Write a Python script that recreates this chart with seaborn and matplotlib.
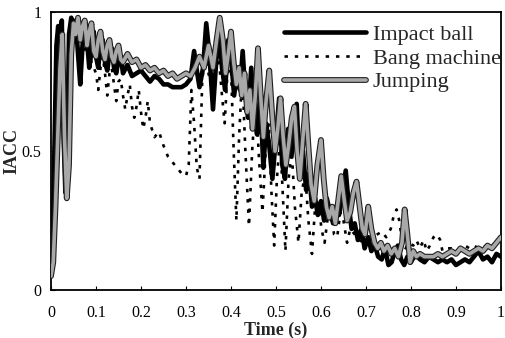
import numpy as np
import pandas as pd
import seaborn as sns
import matplotlib
matplotlib.use("Agg")
import matplotlib.pyplot as plt
import matplotlib.patheffects as pe

# ---------------- data ----------------
t_impact = [0.000, 0.004, 0.008, 0.012, 0.016, 0.020, 0.024, 0.028, 0.032, 0.036,
            0.040, 0.045, 0.050, 0.055, 0.060, 0.065, 0.070, 0.075, 0.080, 0.085,
            0.090, 0.095, 0.100, 0.105, 0.110, 0.115, 0.120, 0.125, 0.130, 0.135,
            0.140, 0.145, 0.150, 0.155, 0.160, 0.170, 0.180, 0.190, 0.200, 0.210,
            0.220, 0.230, 0.240, 0.250, 0.260, 0.270, 0.280, 0.290, 0.300, 0.310,
            0.318, 0.325, 0.330, 0.338, 0.345, 0.352, 0.360, 0.367, 0.374, 0.380,
            0.387, 0.394, 0.400, 0.407, 0.414, 0.420, 0.426, 0.432, 0.438, 0.445,
            0.452, 0.458, 0.465, 0.472, 0.478, 0.485, 0.492, 0.500, 0.507, 0.514,
            0.520, 0.527, 0.534, 0.540, 0.546, 0.553, 0.560, 0.567, 0.574, 0.580,
            0.587, 0.593, 0.600, 0.607, 0.613, 0.620, 0.627, 0.633, 0.640, 0.647,
            0.655, 0.662, 0.668, 0.675, 0.682, 0.690, 0.697, 0.705, 0.712, 0.720,
            0.727, 0.735, 0.742, 0.750, 0.757, 0.764, 0.771, 0.778, 0.785, 0.792,
            0.800, 0.810, 0.820, 0.830, 0.840, 0.850, 0.860, 0.870, 0.880, 0.890,
            0.900, 0.910, 0.920, 0.930, 0.940, 0.950, 0.960, 0.970, 0.980, 0.990,
            1.000]
iacc_impact = [0.10, 0.20, 0.55, 0.88, 0.95, 0.60, 0.97, 0.55, 0.35, 0.50,
               0.92, 0.98, 0.96, 0.97, 0.85, 0.74, 0.88, 0.97, 0.90, 0.80,
               0.86, 0.93, 0.84, 0.80, 0.88, 0.90, 0.82, 0.79, 0.85, 0.87,
               0.80, 0.78, 0.83, 0.84, 0.78, 0.81, 0.77, 0.78, 0.79, 0.77,
               0.75, 0.77, 0.76, 0.74, 0.74, 0.73, 0.73, 0.73, 0.74, 0.76,
               0.86, 0.78, 0.73, 0.80, 0.96, 0.85, 0.65, 0.82, 0.93, 0.80,
               0.72, 0.90, 0.84, 0.70, 0.80, 0.72, 0.86, 0.70, 0.62, 0.80,
               0.62, 0.56, 0.70, 0.44, 0.60, 0.52, 0.40, 0.55, 0.69, 0.45,
               0.40, 0.58, 0.48, 0.55, 0.67, 0.42, 0.50, 0.36, 0.42, 0.30,
               0.33, 0.27, 0.32, 0.25, 0.33, 0.28, 0.24, 0.30, 0.27, 0.34,
               0.43, 0.30, 0.22, 0.24, 0.18, 0.22, 0.15, 0.19, 0.14, 0.16,
               0.12, 0.11, 0.15, 0.09, 0.10, 0.14, 0.16, 0.11, 0.09, 0.12,
               0.10, 0.13, 0.11, 0.10, 0.12, 0.11, 0.10, 0.11, 0.10, 0.11,
               0.09, 0.10, 0.11, 0.10, 0.12, 0.14, 0.11, 0.12, 0.10, 0.13,
               0.12]

t_bang = [0.000, 0.004, 0.008, 0.012, 0.016, 0.020, 0.025, 0.030, 0.035, 0.040,
          0.045, 0.050, 0.060, 0.070, 0.080, 0.090, 0.100, 0.105, 0.110, 0.115,
          0.120, 0.125, 0.130, 0.135, 0.140, 0.145, 0.150, 0.155, 0.160, 0.165,
          0.170, 0.175, 0.180, 0.185, 0.190, 0.195, 0.200, 0.205, 0.210, 0.215,
          0.220, 0.230, 0.240, 0.250, 0.260, 0.270, 0.280, 0.290, 0.300, 0.306,
          0.312, 0.318, 0.324, 0.330, 0.336, 0.342, 0.350, 0.358, 0.365, 0.372,
          0.380, 0.386, 0.392, 0.400, 0.406, 0.412, 0.418, 0.425, 0.432, 0.440,
          0.447, 0.455, 0.462, 0.470, 0.477, 0.484, 0.490, 0.496, 0.502, 0.509,
          0.515, 0.521, 0.528, 0.535, 0.542, 0.550, 0.557, 0.565, 0.572, 0.580,
          0.587, 0.594, 0.601, 0.608, 0.615, 0.622, 0.629, 0.636, 0.643, 0.650,
          0.658, 0.665, 0.675, 0.685, 0.695, 0.705, 0.715, 0.725, 0.735, 0.745,
          0.755, 0.762, 0.768, 0.774, 0.780, 0.788, 0.795, 0.805, 0.812, 0.820,
          0.828, 0.835, 0.842, 0.850, 0.858, 0.865, 0.870, 0.880, 0.890, 0.900,
          0.910, 0.920, 0.930, 0.940, 0.950, 0.960, 0.970, 0.980, 0.990, 1.000]
iacc_bang = [0.10, 0.30, 0.60, 0.85, 0.92, 0.88, 0.90, 0.70, 0.50, 0.75,
             0.92, 0.95, 0.90, 0.85, 0.88, 0.82, 0.78, 0.72, 0.80, 0.84,
             0.78, 0.70, 0.78, 0.80, 0.74, 0.68, 0.75, 0.76, 0.70, 0.65,
             0.70, 0.74, 0.66, 0.62, 0.66, 0.72, 0.64, 0.58, 0.62, 0.68,
             0.60, 0.55, 0.57, 0.52, 0.48, 0.46, 0.44, 0.42, 0.41, 0.45,
             0.72, 0.60, 0.44, 0.40, 0.75, 0.85, 0.78, 0.72, 0.80, 0.85,
             0.70, 0.60, 0.78, 0.80, 0.50, 0.25, 0.55, 0.78, 0.50, 0.23,
             0.50, 0.70, 0.48, 0.28, 0.50, 0.60, 0.35, 0.16, 0.40, 0.55,
             0.35, 0.14, 0.40, 0.50, 0.30, 0.17, 0.35, 0.42, 0.25, 0.13,
             0.30, 0.33, 0.22, 0.17, 0.26, 0.30, 0.20, 0.19, 0.28, 0.25,
             0.17, 0.22, 0.20, 0.18, 0.17, 0.18, 0.19, 0.20, 0.21, 0.19,
             0.22, 0.27, 0.29, 0.25, 0.18, 0.15, 0.17, 0.16, 0.18, 0.15,
             0.18, 0.14, 0.16, 0.19, 0.20, 0.18, 0.14, 0.15, 0.15, 0.14,
             0.15, 0.16, 0.15, 0.16, 0.15, 0.16, 0.15, 0.16, 0.17, 0.18]

t_jump = [0.000, 0.005, 0.010, 0.015, 0.020, 0.025, 0.030, 0.035, 0.040, 0.045,
          0.050, 0.055, 0.060, 0.065, 0.070, 0.075, 0.080, 0.085, 0.090, 0.095,
          0.100, 0.105, 0.110, 0.115, 0.120, 0.125, 0.130, 0.135, 0.140, 0.145,
          0.150, 0.155, 0.160, 0.170, 0.180, 0.190, 0.200, 0.210, 0.220, 0.230,
          0.240, 0.250, 0.260, 0.270, 0.280, 0.290, 0.300, 0.310, 0.320, 0.330,
          0.340, 0.350, 0.360, 0.368, 0.375, 0.382, 0.388, 0.394, 0.400, 0.406,
          0.412, 0.418, 0.424, 0.430, 0.436, 0.442, 0.448, 0.454, 0.460, 0.466,
          0.472, 0.478, 0.485, 0.492, 0.498, 0.504, 0.510, 0.516, 0.522, 0.528,
          0.535, 0.541, 0.547, 0.553, 0.560, 0.566, 0.572, 0.578, 0.585, 0.592,
          0.600, 0.606, 0.612, 0.618, 0.625, 0.632, 0.639, 0.645, 0.652, 0.658,
          0.665, 0.672, 0.679, 0.686, 0.692, 0.698, 0.705, 0.712, 0.719, 0.726,
          0.733, 0.740, 0.748, 0.756, 0.764, 0.772, 0.780, 0.786, 0.792, 0.798,
          0.805, 0.812, 0.820, 0.830, 0.840, 0.850, 0.860, 0.870, 0.880, 0.890,
          0.900, 0.910, 0.920, 0.930, 0.940, 0.950, 0.960, 0.970, 0.980, 0.990,
          1.000]
iacc_jump = [0.05, 0.10, 0.30, 0.55, 0.80, 0.92, 0.55, 0.33, 0.45, 0.85,
             0.96, 0.92, 0.98, 0.90, 0.95, 0.97, 0.88, 0.93, 0.96, 0.86,
             0.84, 0.90, 0.93, 0.86, 0.83, 0.88, 0.90, 0.84, 0.82, 0.86,
             0.88, 0.83, 0.82, 0.85, 0.82, 0.83, 0.80, 0.81, 0.79, 0.80,
             0.78, 0.79, 0.77, 0.78, 0.76, 0.77, 0.78, 0.77, 0.80, 0.84,
             0.80, 0.88, 0.80, 0.90, 0.98, 0.90, 0.78, 0.85, 0.93, 0.82,
             0.74, 0.80, 0.70, 0.78, 0.64, 0.72, 0.58, 0.70, 0.87, 0.70,
             0.55, 0.68, 0.79, 0.62, 0.50, 0.58, 0.69, 0.55, 0.45, 0.52,
             0.62, 0.66, 0.50, 0.40, 0.55, 0.67, 0.52, 0.38, 0.32, 0.45,
             0.54, 0.40, 0.30, 0.26, 0.30, 0.24, 0.33, 0.41, 0.32, 0.25,
             0.28, 0.35, 0.39, 0.30, 0.22, 0.20, 0.30, 0.22, 0.17, 0.15,
             0.17, 0.14, 0.16, 0.13, 0.15, 0.12, 0.17, 0.29, 0.20, 0.10,
             0.14, 0.12, 0.13, 0.12, 0.12, 0.12, 0.13, 0.12, 0.13, 0.14,
             0.13, 0.15, 0.14, 0.13, 0.14, 0.15, 0.14, 0.16, 0.15, 0.17,
             0.19]

series_names = ["Impact ball", "Bang machine", "Jumping"]
x_ticks = [0, 0.1, 0.2, 0.3, 0.4, 0.5, 0.6, 0.7, 0.8, 0.9, 1]
x_ticklabels = ["0", "0.1", "0.2", "0.3", "0.4", "0.5", "0.6", "0.7", "0.8", "0.9", "1"]
y_ticks = [0, 0.5, 1]
y_ticklabels = ["0", "0.5", "1"]

# ---------------- plot ----------------
sns.set_theme(style="white")
plt.rcParams["font.family"] = ["Liberation Serif", "DejaVu Serif"]

fig = plt.figure(figsize=(5.05, 3.38), dpi=100)
ax = fig.add_axes([0.101, 0.142, 0.891, 0.822])

df_imp = pd.DataFrame({"t": t_impact, "v": iacc_impact})
df_bang = pd.DataFrame({"t": t_bang, "v": iacc_bang})
df_jump = pd.DataFrame({"t": t_jump, "v": iacc_jump})

sns.lineplot(data=df_bang, x="t", y="v", ax=ax, sort=False, estimator=None,
             color="black", linewidth=1.9, linestyle=(0, (1.3, 2.6)),
             label=series_names[1], zorder=2)
sns.lineplot(data=df_imp, x="t", y="v", ax=ax, sort=False, estimator=None,
             color="black", linewidth=3.3, label=series_names[0], zorder=3)
sns.lineplot(data=df_jump, x="t", y="v", ax=ax, sort=False, estimator=None,
             color="#a8a8a8", linewidth=2.6, label=series_names[2], zorder=4,
             path_effects=[pe.Stroke(linewidth=4.2, foreground="#202020"), pe.Normal()])

ax.set_xlim(0, 1)
ax.set_ylim(0, 1)
ax.set_xticks(x_ticks)
ax.set_xticklabels(x_ticklabels)
ax.set_yticks(y_ticks)
ax.set_yticklabels(y_ticklabels)
ax.tick_params(axis="both", direction="in", length=3, width=0.8, colors="black",
               labelsize=11.5, pad=7, bottom=True, left=True)
ax.tick_params(axis="x", pad=11)
ax.set_xlabel("Time (s)", fontsize=13, fontweight="bold", labelpad=0.5)
ax.set_ylabel("IACC", fontsize=13, fontweight="bold", labelpad=1)

for s in ax.spines.values():
    s.set_visible(True)
    s.set_color("black")
    s.set_linewidth(1.3)

handles, labels = ax.get_legend_handles_labels()
order = [labels.index(n) for n in series_names]
ax.legend([handles[i] for i in order], [labels[i] for i in order],
          loc="upper left", frameon=False, fontsize=16, handlelength=3.7,
          handletextpad=0.3, labelspacing=0.15, borderpad=0, borderaxespad=0,
          bbox_to_anchor=(0.518, 0.957))

fig.savefig("out.png", dpi=100)
